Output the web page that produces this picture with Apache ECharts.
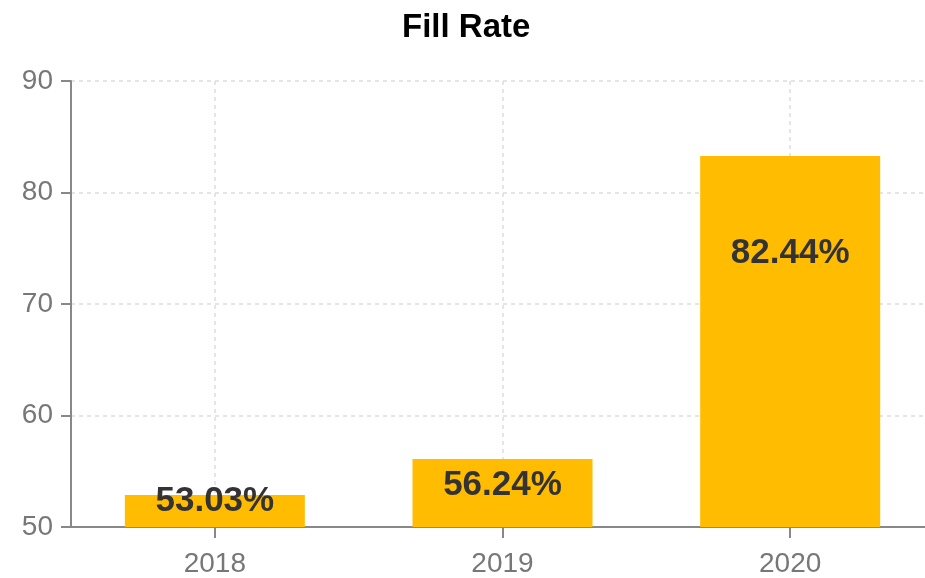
<!DOCTYPE html>
<html>
<head>
<meta charset="utf-8">
<script src="https://cdn.jsdelivr.net/npm/echarts@6/dist/echarts.min.js"></script>
<style>html,body{margin:0;padding:0;background:#fff}#c{width:925px;height:578px}</style>
</head>
<body>
<div id="c"></div>
<script>
const categories = ['2018', '2019', '2020'];
const fillRate = [52.87, 56.10, 83.27];
const labelTexts = ['53.03%', '56.24%', '82.44%'];
const yTicks = [50, 60, 70, 80, 90];

const labelOffsetsY = [-12, 8, 79];
const FONT = '"Liberation Sans", Arial, Helvetica, sans-serif';

const chart = echarts.init(document.getElementById('c'), null, {renderer: 'canvas'});
chart.setOption({
  backgroundColor: '#ffffff',
  animation: false,
  title: {
    text: 'Fill Rate',
    left: 402,
    top: 11,
    padding: 0,
    textStyle: {fontFamily: FONT, fontSize: 33, fontWeight: 'bold', color: '#000'}
  },
  grid: {left: 71, width: 863, top: 81, bottom: 51, containLabel: false, outerBoundsMode: 'none'},
  xAxis: {
    type: 'category',
    data: categories,
    axisLine: {lineStyle: {color: '#888', width: 2}},
    axisTick: {show: true, alignWithLabel: true, length: 11, lineStyle: {color: '#888', width: 2}},
    axisLabel: {fontFamily: FONT, fontSize: 28, color: '#777', margin: 23},
    splitLine: {show: true, alignWithLabel: true, lineStyle: {color: '#ddd', type: [4, 4], width: 1.5}}
  },
  yAxis: {
    type: 'value',
    min: yTicks[0],
    max: yTicks[yTicks.length - 1],
    interval: 10,
    axisLine: {show: true, lineStyle: {color: '#888', width: 2}},
    axisTick: {show: true, length: 10, lineStyle: {color: '#888', width: 2}},
    axisLabel: {fontFamily: FONT, fontSize: 28, color: '#777', margin: 18},
    splitLine: {show: true, lineStyle: {color: '#ddd', type: [4, 4], width: 1.5}}
  },
  series: [{
    type: 'bar',
    barWidth: 180,
    itemStyle: {color: '#FFBC00'},
    data: fillRate.map((v, i) => ({
      value: v,
      label: {
        show: true,
        position: 'insideTop',
        distance: 0,
        offset: [0, labelOffsetsY[i]],
        formatter: () => labelTexts[i],
        fontFamily: FONT,
        fontSize: 35,
        lineHeight: 36,
        fontWeight: 'bold',
        color: '#333'
      }
    }))
  }]
});
</script>
</body>
</html>
